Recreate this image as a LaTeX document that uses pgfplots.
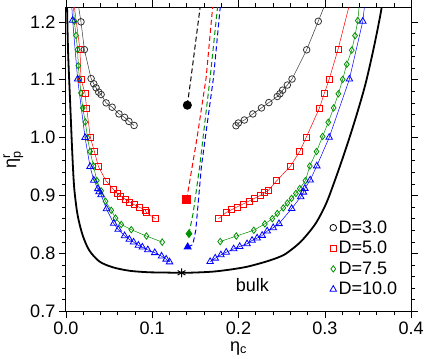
\documentclass[border=0pt]{standalone}
\usepackage{pgfplots}
\pgfplotsset{compat=1.18}
\usepackage{amsmath}
\usepackage{fontspec}
\setmainfont{Liberation Sans}
\definecolor{dred}{rgb}{1,0,0}
\definecolor{dgreen}{rgb}{0,0.57,0}
\definecolor{dblue}{rgb}{0,0,1}
\newcommand{\bigf}{\fontsize{18}{21}\selectfont}
\pgfplotsset{
  simline/.style={line width=0.5pt, mark options={solid, line width=0.8pt}},
  fillline/.style={dashed, line width=1pt, dash pattern=on 5pt off 3pt, mark indices={1}},
}

\begin{document}
\begin{tikzpicture}
\begin{axis}[
  scale only axis, width=343bp, height=302bp,
  xmin=0, xmax=0.4, ymin=0.7, ymax=1.225,
  xtick={0,0.1,0.2,0.3,0.4}, ytick={0.7,0.8,0.9,1.0,1.1,1.2},
  minor tick num=4,
  tick align=outside, tick pos=both,
  major tick length=7bp, minor tick length=4bp,
  every tick/.style={black, line width=0.6pt},
  axis line style={line width=0.9pt},
  tick label style={font=\bigf},
  label style={font=\bigf},
  /pgf/number format/assume math mode=true,
  xticklabel style={/pgf/number format/fixed, /pgf/number format/fixed zerofill, /pgf/number format/precision=1},
  yticklabel style={/pgf/number format/fixed, /pgf/number format/fixed zerofill, /pgf/number format/precision=1},
  xlabel={η\textsubscript{c}},
  ylabel={η$^{\text{r}}_{\text{p}}$},
  legend style={draw=none, fill=none, font=\bigf, at={(0.975,0.035)}, anchor=south east,
    row sep=2.5pt, /tikz/every odd column/.append style={column sep=0pt}},
  legend cell align=left,
]
% legend images
\addlegendimage{only marks, mark=o, black, mark size=3.3pt, line width=0.8pt}
\addlegendentry{D=3.0}
\addlegendimage{only marks, mark=square, dred, mark size=3pt, line width=0.8pt}
\addlegendentry{D=5.0}
\addlegendimage{only marks, mark=diamond, dgreen, mark size=3.2pt, line width=0.8pt}
\addlegendentry{D=7.5}
\addlegendimage{only marks, mark=triangle, dblue, mark size=3.8pt, line width=0.8pt}
\addlegendentry{D=10.0}

% bulk
\addplot[black, line width=1.8pt, smooth, forget plot] coordinates {
 (0.0010,1.25) (0.0025,1.15) (0.0047,1.069) (0.0075,0.97) (0.0097,0.912)
 (0.0136,0.866) (0.0195,0.831) (0.0272,0.805) (0.0389,0.786) (0.0544,0.776)
 (0.0738,0.770) (0.095,0.7675) (0.1128,0.767) (0.134,0.7665) (0.150,0.767)
 (0.170,0.7685) (0.190,0.772) (0.210,0.777) (0.230,0.785) (0.245,0.7925)
 (0.2554,0.80) (0.272,0.82) (0.2877,0.848) (0.297,0.872) (0.304,0.895)
 (0.315,0.94) (0.326,0.988) (0.337,1.04) (0.347,1.092) (0.356,1.15)
 (0.3635,1.205) (0.367,1.235)};
\addplot[black, only marks, mark=asterisk, mark size=4.5pt, line width=1pt, forget plot]
 coordinates {(0.134,0.7665)};
\node[font=\bigf] at (axis cs:0.216,0.745) {bulk};

% D=3.0
\addplot[black!80, simline, mark=o, mark size=3.3pt, forget plot] coordinates {
 (0.011,1.26) (0.0175,1.20) (0.0214,1.152) (0.0292,1.102) (0.0323,1.093)
 (0.035,1.086) (0.038,1.0786) (0.0408,1.0744) (0.0466,1.06) (0.0536,1.0525)
 (0.0615,1.041) (0.068,1.035) (0.073,1.028) (0.079,1.021)};
\addplot[black!80, simline, mark=o, mark size=3.3pt, forget plot] coordinates {
 (0.1971,1.0205) (0.1998,1.0252) (0.2068,1.0304) (0.2166,1.0409) (0.2266,1.0513)
 (0.2352,1.0605) (0.2449,1.071) (0.248,1.0757) (0.2511,1.082) (0.2566,1.0908)
 (0.262,1.1012) (0.279,1.1517) (0.2924,1.2009) (0.3083,1.26)};
\addplot[black, fillline, mark=*, mark size=4pt, mark options={solid}, forget plot] coordinates {
 (0.1407,1.056) (0.145,1.1035) (0.1555,1.225) (0.158,1.26)};

% D=5.0
\addplot[dred, simline, mark=square, mark size=3pt, forget plot] coordinates {
 (0.0068,1.26) (0.0163,1.152) (0.0175,1.101) (0.0222,1.076) (0.0241,1.050)
 (0.0284,1.0) (0.033,0.976) (0.0377,0.95) (0.0466,0.925) (0.0556,0.910)
 (0.0595,0.9035) (0.0633,0.8988) (0.0688,0.8936) (0.0738,0.8887) (0.079,0.8843)
 (0.0848,0.88) (0.0918,0.8751) (0.0933,0.8704) (0.1038,0.86)};
\addplot[dred, simline, mark=square, mark size=3pt, forget plot] coordinates {
 (0.1769,0.86) (0.1858,0.8708) (0.1918,0.8753) (0.1983,0.8803) (0.2052,0.8852)
 (0.2122,0.8904) (0.2187,0.8953) (0.2251,0.90) (0.23,0.9047) (0.2348,0.9092)
 (0.2444,0.9257) (0.2604,0.951) (0.2709,0.976) (0.2784,1.0003) (0.2935,1.050)
 (0.2993,1.0757) (0.3051,1.101) (0.3152,1.1517) (0.3337,1.26)};
\addplot[dred, fillline, mark=square*, mark size=3.7pt, mark options={solid}, forget plot] coordinates {
 (0.1399,0.893) (0.152,1.0) (0.1625,1.1035) (0.17,1.225) (0.172,1.26)};

% D=7.5
\addplot[dgreen, simline, mark=diamond, mark size=3.2pt, forget plot] coordinates {
 (0.0075,1.26) (0.0098,1.201) (0.0117,1.1765) (0.0135,1.152) (0.0144,1.1243)
 (0.0158,1.101) (0.0175,1.077) (0.0195,1.0513) (0.0225,1.027) (0.025,1.0)
 (0.028,0.976) (0.032,0.951) (0.0358,0.926) (0.0408,0.908) (0.0459,0.890)
 (0.0525,0.8745) (0.0575,0.861) (0.0641,0.85) (0.0758,0.841) (0.0933,0.83)
 (0.1116,0.8195)};
\addplot[dgreen, simline, mark=diamond, mark size=3.2pt, forget plot] coordinates {
 (0.1788,0.8205) (0.1974,0.830) (0.2177,0.840) (0.2305,0.851) (0.2391,0.860)
 (0.2449,0.869) (0.2519,0.8786) (0.2566,0.887) (0.2615,0.895) (0.2665,0.9035)
 (0.271,0.912) (0.2775,0.9256) (0.2826,0.951) (0.2904,0.976) (0.2974,1.002)
 (0.304,1.0264) (0.3102,1.0513) (0.3157,1.0757) (0.3207,1.1005) (0.3254,1.1266)
 (0.3312,1.151) (0.335,1.176) (0.3382,1.202) (0.342,1.26)};
\addplot[dgreen, fillline, mark=diamond*, mark size=3.7pt, mark options={solid}, forget plot] coordinates {
 (0.1426,0.834) (0.1475,0.87) (0.155,0.95) (0.1671,1.1035) (0.1757,1.225) (0.1775,1.26)};

% D=10.0
\addplot[dblue, simline, mark=triangle, mark size=3.8pt, forget plot] coordinates {
 (0.0055,1.26) (0.0078,1.2026) (0.0136,1.101) (0.0222,1.0) (0.028,0.95)
 (0.0323,0.9263) (0.037,0.9117) (0.0385,0.9064) (0.0408,0.9012) (0.047,0.8769)
 (0.0554,0.8518) (0.0606,0.8414) (0.068,0.8304) (0.0735,0.8243) (0.0784,0.8195)
 (0.084,0.8139) (0.0886,0.8108) (0.0949,0.8061) (0.103,0.8012) (0.1108,0.7953)
 (0.1162,0.79) (0.1201,0.7852)};
\addplot[dblue, simline, mark=triangle, mark size=3.8pt, forget plot] coordinates {
 (0.1671,0.7857) (0.173,0.7917) (0.1796,0.7974) (0.1858,0.802) (0.1944,0.8078)
 (0.2014,0.8118) (0.2099,0.8165) (0.2157,0.8224) (0.2216,0.8265) (0.2274,0.831)
 (0.2332,0.8386) (0.2402,0.8443) (0.2469,0.8513) (0.2616,0.8774) (0.2721,0.8977)
 (0.2752,0.9057) (0.2768,0.9122) (0.283,0.9266) (0.2907,0.951) (0.3051,1.0003)
 (0.3285,1.101) (0.344,1.2009) (0.3485,1.26)};
\addplot[dblue, fillline, mark=triangle*, mark size=3.9pt, mark options={solid}, forget plot] coordinates {
 (0.1411,0.811) (0.147,0.815) (0.1505,0.84) (0.157,0.95) (0.171,1.1035) (0.1788,1.225) (0.1805,1.26)};
\end{axis}
\end{tikzpicture}
\end{document}
